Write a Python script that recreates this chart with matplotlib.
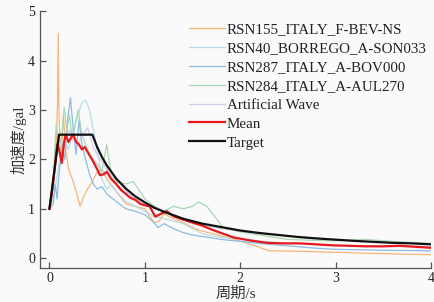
import numpy as np
import matplotlib
matplotlib.use('Agg')
import matplotlib.pyplot as plt

# periods (s) and spectral acceleration
t_rsn155 = [0, 0.04, 0.07, 0.085, 0.092, 0.1, 0.12, 0.145, 0.17, 0.2, 0.24, 0.28, 0.32, 0.36, 0.4, 0.45,
            0.5, 0.55, 0.6, 0.7, 0.8, 0.9, 1.0, 1.05, 1.1, 1.15, 1.2, 1.3, 1.4, 1.5, 1.6, 1.7, 1.8, 2.0,
            2.2, 2.3, 2.6, 3.0, 3.5, 4.0]
a_rsn155 = [1.0, 1.4, 2.2, 3.2, 4.55, 2.9, 1.9, 2.9, 2.2, 1.8, 1.6, 1.35, 1.05, 1.25, 1.4, 1.55,
            1.75, 1.8, 1.6, 1.35, 1.1, 1.05, 1.0, 0.85, 0.72, 0.75, 0.9, 0.8, 0.72, 0.62, 0.55, 0.5, 0.45, 0.35,
            0.22, 0.15, 0.14, 0.12, 0.09, 0.07]

t_rsn40 = [0, 0.05, 0.1, 0.15, 0.2, 0.25, 0.3, 0.34, 0.38, 0.42, 0.46, 0.5, 0.55, 0.6, 0.65, 0.7, 0.8,
           0.9, 1.0, 1.1, 1.2, 1.3, 1.4, 1.5, 1.6, 1.7, 1.8, 2.0, 2.2, 2.5, 3.0, 3.5, 4.0]
a_rsn40 = [1.0, 1.3, 1.9, 2.4, 2.2, 2.6, 2.9, 3.15, 3.2, 3.0, 2.6, 2.2, 1.6, 1.4, 1.5, 1.35, 1.15,
           1.05, 0.95, 0.85, 0.8, 0.75, 0.7, 0.6, 0.5, 0.45, 0.42, 0.4, 0.35, 0.3, 0.26, 0.24, 0.23]

t_rsn287 = [0, 0.04, 0.06, 0.08, 0.1, 0.13, 0.16, 0.19, 0.22, 0.25, 0.28, 0.31, 0.34, 0.38, 0.42, 0.46,
            0.5, 0.55, 0.6, 0.7, 0.8, 0.9, 1.0, 1.08, 1.14, 1.2, 1.3, 1.4, 1.5, 1.6, 1.8, 2.0, 2.2, 2.5,
            2.8, 3.0, 3.5, 4.0]
a_rsn287 = [1.0, 1.1, 1.5, 1.2, 1.7, 2.3, 2.0, 2.8, 3.25, 2.6, 2.1, 2.8, 2.3, 2.0, 1.7, 1.5,
            1.4, 1.45, 1.3, 1.15, 1.0, 0.95, 0.88, 0.75, 0.62, 0.7, 0.6, 0.52, 0.47, 0.44, 0.38, 0.34, 0.3, 0.25,
            0.2, 0.18, 0.16, 0.15]

t_rsn284 = [0, 0.04, 0.07, 0.1, 0.13, 0.155, 0.18, 0.21, 0.24, 0.27, 0.3, 0.34, 0.38, 0.42, 0.46, 0.5,
            0.55, 0.6, 0.64, 0.7, 0.8, 0.88, 1.0, 1.1, 1.2, 1.3, 1.4, 1.5, 1.56, 1.65, 1.75, 1.82, 2.0,
            2.3, 2.5, 2.8, 3.0, 3.3, 3.6, 4.0]
a_rsn284 = [1.0, 1.6, 2.7, 2.2, 2.5, 3.05, 2.6, 2.9, 2.4, 2.7, 3.0, 2.5, 2.3, 2.1, 2.0, 1.9,
            1.75, 2.3, 1.8, 1.55, 1.5, 1.55, 1.2, 1.05, 0.95, 1.05, 1.0, 1.05, 1.14, 1.05, 0.8, 0.62, 0.53,
            0.44, 0.38, 0.36, 0.35, 0.38, 0.34, 0.3]

t_art = [0, 0.05, 0.1, 0.15, 0.2, 0.25, 0.3, 0.35, 0.4, 0.45, 0.5, 0.6, 0.7, 0.8, 0.9, 1.0, 1.1, 1.2,
         1.3, 1.4, 1.5, 1.6, 1.8, 2.0, 2.2, 2.5, 2.8, 3.0, 3.3, 3.6, 4.0]
a_art = [1.0, 1.8, 2.4, 2.2, 2.6, 2.4, 2.3, 2.5, 2.64, 2.3, 2.1, 1.8, 1.5, 1.35, 1.2, 1.1, 1.0, 0.95,
         0.85, 0.8, 0.72, 0.68, 0.6, 0.55, 0.5, 0.45, 0.4, 0.37, 0.34, 0.32, 0.29]

t_mean = [0, 0.03, 0.06, 0.08, 0.1, 0.13, 0.15, 0.17, 0.2, 0.23, 0.25, 0.28, 0.31, 0.34, 0.37, 0.4,
          0.43, 0.46, 0.5, 0.53, 0.57, 0.6, 0.65, 0.7, 0.75, 0.8, 0.85, 0.9, 0.95, 1.0, 1.05, 1.11,
          1.17, 1.23, 1.3, 1.4, 1.5, 1.6, 1.7, 1.8, 1.93, 2.1, 2.28, 2.45, 2.63, 2.8, 2.97, 3.15,
          3.32, 3.5, 3.67, 3.85, 4.0]
a_mean = [1.0, 1.4, 1.9, 2.3, 2.2, 1.93, 2.3, 2.5, 2.35, 2.45, 2.5, 2.35, 2.3, 2.2, 2.25, 2.15,
          2.05, 1.95, 1.8, 1.68, 1.7, 1.75, 1.6, 1.5, 1.38, 1.3, 1.22, 1.18, 1.1, 1.07, 1.05, 0.84,
          0.9, 0.95, 0.85, 0.78, 0.72, 0.66, 0.58, 0.51, 0.42, 0.36, 0.31, 0.3, 0.3, 0.28, 0.26, 0.25,
          0.24, 0.24, 0.25, 0.23, 0.21]

t_target = [0, 0.1, 0.45, 0.5, 0.55, 0.6, 0.7, 0.8, 0.9, 1.0, 1.1, 1.2, 1.3, 1.4, 1.5, 1.6, 1.8,
            2.0, 2.2, 2.4, 2.6, 2.8, 3.0, 3.2, 3.4, 3.6, 3.8, 4.0]
a_target = [1.0, 2.5, 2.5, 2.25, 2.05, 1.88, 1.61, 1.41, 1.25, 1.13, 1.02, 0.94, 0.87, 0.80, 0.75,
            0.70, 0.63, 0.56, 0.51, 0.47, 0.43, 0.40, 0.375, 0.35, 0.33, 0.31, 0.30, 0.28]

records = [
    (t_rsn155, a_rsn155, 'RSN155_ITALY_F-BEV-NS', '#f6b676'),
    (t_rsn40, a_rsn40, 'RSN40_BORREGO_A-SON033', '#b8dde9'),
    (t_rsn287, a_rsn287, 'RSN287_ITALY_A-BOV000', '#8dbbe2'),
    (t_rsn284, a_rsn284, 'RSN284_ITALY_A-AUL270', '#a9d7b3'),
    (t_art, a_art, 'Artificial Wave', '#cfcde8'),
]

serif = ['Liberation Serif', 'Noto Sans CJK SC']

fig = plt.figure(figsize=(4.34, 3.02), dpi=100, facecolor='#fafafa')
ax = fig.add_axes([0.092, 0.114, 0.901, 0.849])
ax.set_facecolor('#fafafa')

for t, a, lab, col in records:
    ax.plot(t, a, color=col, lw=0.9, label=lab)
ax.plot(t_mean, a_mean, color='#e8191c', lw=1.6, label='Mean')
ax.plot(t_target, a_target, color='#111111', lw=1.6, label='Target')

ax.set_xlim(-0.1, 4.0)
ax.set_ylim(-0.19, 5.0)
ax.set_xticks([0, 1, 2, 3, 4])
ax.set_yticks([0, 1, 2, 3, 4, 5])
for s in ['top', 'right']:
    ax.spines[s].set_visible(False)
for s in ['left', 'bottom']:
    ax.spines[s].set_color('#555555')
    ax.spines[s].set_linewidth(0.9)
ax.tick_params(direction='in', length=4, width=0.9, color='#555555',
               labelsize=10, labelcolor='#222222')
for lbl in ax.get_xticklabels() + ax.get_yticklabels():
    lbl.set_family(serif)

ax.set_xlabel('周期/s', family=serif, fontsize=11, color='#333333', labelpad=1)
ax.set_ylabel('加速度/gal', family=serif, fontsize=11, color='#333333', labelpad=1)

leg = ax.legend(loc='upper left', bbox_to_anchor=(0.381, 0.955), frameon=False,
                borderpad=0, borderaxespad=0, handlelength=2.4, handletextpad=0.14,
                labelspacing=0.36, prop={'family': 'Liberation Serif', 'size': 10.8})
for txt in leg.get_texts():
    txt.set_color('#222222')

fig.savefig('out.png', dpi=100, facecolor=fig.get_facecolor())
